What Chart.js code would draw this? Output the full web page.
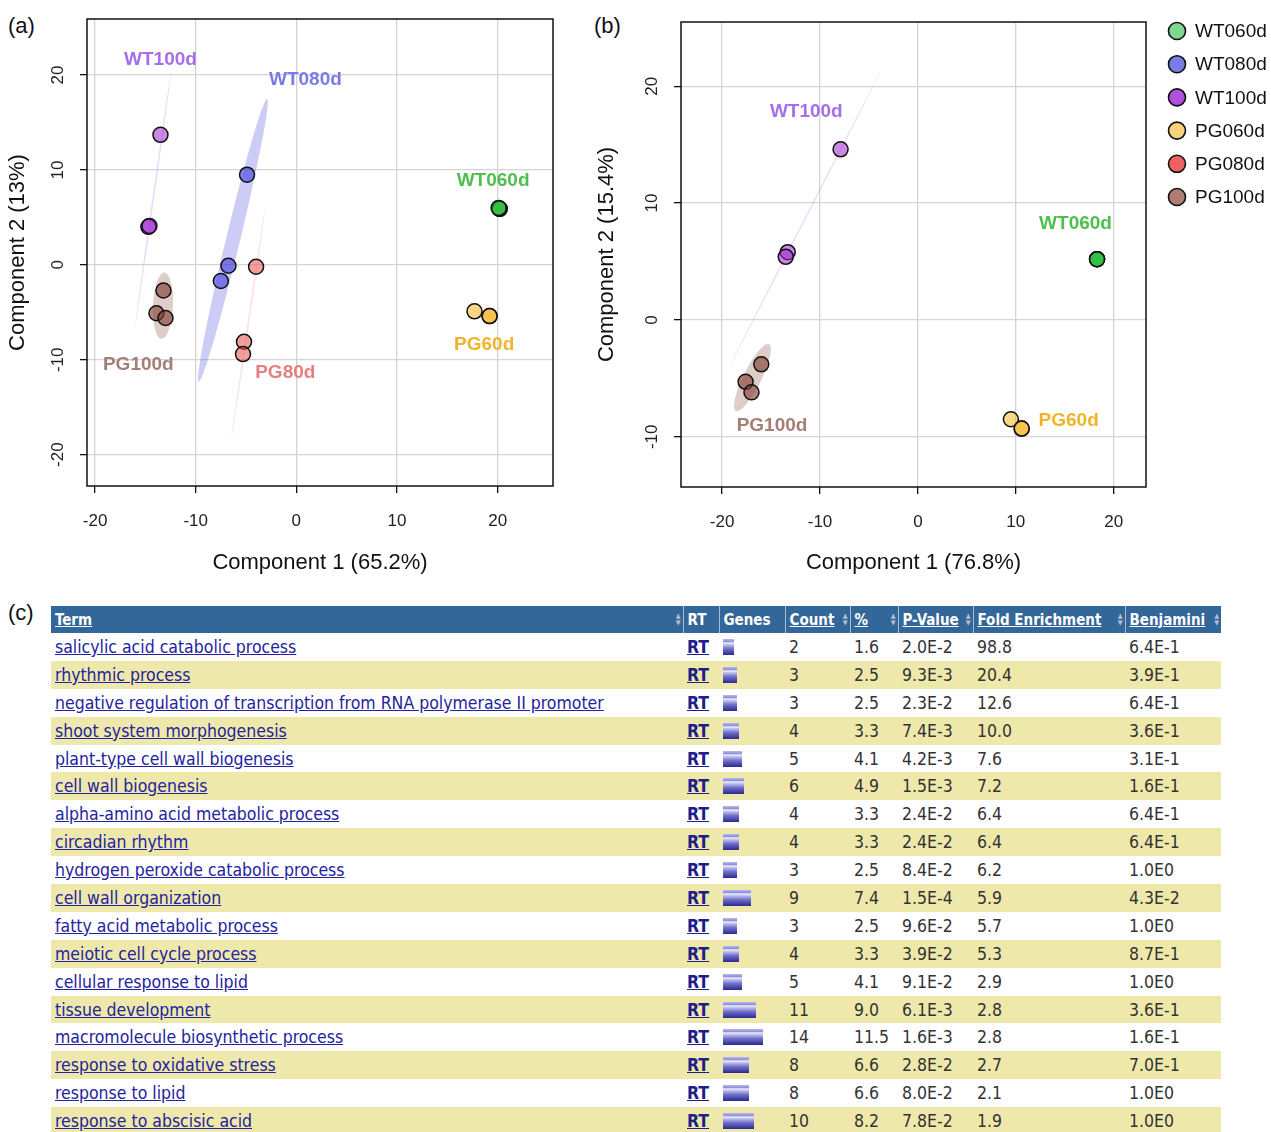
<!DOCTYPE html>
<html>
<head>
<meta charset="utf-8">
<script src="https://cdn.jsdelivr.net/npm/chart.js@4.4.9/dist/chart.umd.min.js"></script>
<style>
  html, body { margin: 0; padding: 0; background: #fff; }
  body { width: 1271px; height: 1132px; overflow: hidden; position: relative; font-family: 'Liberation Sans', Arial, sans-serif; }
  canvas { position: absolute; }
  .panel { position: absolute; font-size: 22px; color: #111; }
  #tableWrap { position: absolute; left: 51px; top: 606px; width: 1170px; }
  table { border-collapse: collapse; table-layout: fixed; width: 1170px;
          font-family: 'DejaVu Sans Condensed', 'DejaVu Sans', sans-serif; font-stretch: condensed; font-size: 17.5px; color: #333; }
  th { background: #336699; color: #fff; font-weight: bold; font-size: 15px; height: 27px; text-align: left;
       padding: 0 0 0 4px; border-left: 1px solid #a8bcd4; position: relative; white-space: nowrap; }
  th:first-child { border-left: none; }
  th a { color: #fff; }
  th .sort { position: absolute; right: 2px; top: 7px; font-size: 7px; line-height: 7px; color: #b4bfce; }
  td { height: 27.9px; padding: 0 0 0 4px; white-space: nowrap; overflow: hidden; vertical-align: middle; }
  tr.alt td { background: #eee8aa; }
  td a { color: #2323a0; }
  td a.rt { font-weight: bold; color: #1e1e8a; }
  .gene { display: inline-block; height: 16px; vertical-align: middle; margin-top: -2px;
          background: linear-gradient(to bottom, #b8b8ec 0%, #8c8cd8 18%, #f4f4fc 24%, #c4c4f0 34%, #7070cc 60%, #2a2a8c 100%); }
</style>
</head>
<body>
<div class="panel" style="left:8px; top:13px;">(a)</div>
<div class="panel" style="left:594px; top:13px;">(b)</div>
<div class="panel" style="left:8px; top:600px;">(c)</div>
<canvas id="pcaA" width="580" height="580" style="left:0; top:0;"></canvas>
<canvas id="pcaB" width="691" height="580" style="left:580px; top:0;"></canvas>
<div id="tableWrap"></div>
<script>
// ---- PCA scores, panel (a) ----
const groups = ['WT060d', 'WT080d', 'WT100d', 'PG060d', 'PG080d', 'PG100d'];
const aWT060d = [[20.2, 5.9], [20.2, 5.9], [20.1, 6.0]];
const aWT080d = [[-4.9, 9.5], [-6.75, -0.1], [-7.5, -1.7]];
const aWT100d = [[-13.5, 13.7], [-14.7, 4.0], [-14.6, 4.1]];
const aPG060d = [[17.7, -4.9], [19.2, -5.4], [19.2, -5.4]];
const aPG080d = [[-4.0, -0.2], [-5.2, -8.1], [-5.3, -9.4]];
const aPG100d = [[-13.2, -2.7], [-13.9, -5.1], [-13.0, -5.6]];

// ---- PCA scores, panel (b) ----
const bWT060d = [[18.3, 5.2], [18.3, 5.2], [18.3, 5.2]];
const bWT080d = [];
const bWT100d = [[-7.9, 14.6], [-13.3, 5.8], [-13.5, 5.4]];
const bPG060d = [[9.5, -8.5], [10.6, -9.3], [10.6, -9.3]];
const bPG080d = [];
const bPG100d = [[-16.0, -3.8], [-17.6, -5.3], [-17.0, -6.2]];

// group ellipses: major axis end points (data units)
const ellipseGroupsA = ['WT080d', 'WT100d', 'PG080d', 'PG100d', 'PG060d'];
const ellipseEndsA = [[[-9.7, -12.3], [-2.9, 17.5]], [[-16.0, -6.3], [-12.4, 20.6]], [[-6.45, -18.3], [-3.1, 6.0]], [[-13.1, -0.8], [-13.4, -7.8]], [[16.8, -4.5], [20.5, -5.9]]];
const ellipseGroupsB = ['WT100d', 'PG100d', 'PG060d'];
const ellipseEndsB = [[[-19.2, -3.9], [-3.8, 21.3]], [[-18.6, -7.8], [-15.2, -2.05]], [[9.8, -8.3], [11.3, -9.9]]];

// group name labels inside plots (data coords)
const labelTextA = ['WT100d', 'WT080d', 'WT060d', 'PG60d', 'PG80d', 'PG100d'];
const labelPosA = [[-13.5, 21.6], [0.9, 19.5], [19.55, 8.85], [18.66, -8.4], [-1.1, -11.4], [-15.7, -10.5]];
const labelTextB = ['WT100d', 'WT060d', 'PG60d', 'PG100d'];
const labelPosB = [[-11.4, 17.8], [16.1, 8.2], [15.4, -8.6], [-14.9, -9.1]];

const xTitleA = 'Component 1 (65.2%)';
const yTitleA = 'Component 2 (13%)';
const xTitleB = 'Component 1 (76.8%)';
const yTitleB = 'Component 2 (15.4%)';

// ---- DAVID table ----
const terms = ['salicylic acid catabolic process', 'rhythmic process', 'negative regulation of transcription from RNA polymerase II promoter',
  'shoot system morphogenesis', 'plant-type cell wall biogenesis', 'cell wall biogenesis', 'alpha-amino acid metabolic process',
  'circadian rhythm', 'hydrogen peroxide catabolic process', 'cell wall organization', 'fatty acid metabolic process',
  'meiotic cell cycle process', 'cellular response to lipid', 'tissue development', 'macromolecule biosynthetic process',
  'response to oxidative stress', 'response to lipid', 'response to abscisic acid'];
const counts = [2, 3, 3, 4, 5, 6, 4, 4, 3, 9, 3, 4, 5, 11, 14, 8, 8, 10];
const percents = ['1.6', '2.5', '2.5', '3.3', '4.1', '4.9', '3.3', '3.3', '2.5', '7.4', '2.5', '3.3', '4.1', '9.0', '11.5', '6.6', '6.6', '8.2'];
const pValues = ['2.0E-2', '9.3E-3', '2.3E-2', '7.4E-3', '4.2E-3', '1.5E-3', '2.4E-2', '2.4E-2', '8.4E-2', '1.5E-4', '9.6E-2', '3.9E-2', '9.1E-2', '6.1E-3', '1.6E-3', '2.8E-2', '8.0E-2', '7.8E-2'];
const foldEnrichment = ['98.8', '20.4', '12.6', '10.0', '7.6', '7.2', '6.4', '6.4', '6.2', '5.9', '5.7', '5.3', '2.9', '2.8', '2.8', '2.7', '2.1', '1.9'];
const benjamini = ['6.4E-1', '3.9E-1', '6.4E-1', '3.6E-1', '3.1E-1', '1.6E-1', '6.4E-1', '6.4E-1', '1.0E0', '4.3E-2', '1.0E0', '8.7E-1', '1.0E0', '3.6E-1', '1.6E-1', '7.0E-1', '1.0E0', '1.0E0'];

// styles
const pointFill = {
  WT060d: 'rgba(40,190,60,0.6)', WT080d: 'rgba(60,60,220,0.6)', WT100d: 'rgba(160,40,210,0.55)',
  PG060d: 'rgba(245,180,40,0.55)', PG080d: 'rgba(235,80,80,0.55)', PG100d: 'rgba(130,60,50,0.62)'
};
const legendFill = { WT060d: '#80d890', WT080d: '#7b7be6', WT100d: '#b050e0', PG060d: '#f8d27a', PG080d: '#f06262', PG100d: '#b07c74' };
const ellipseFill = {
  WT080d: 'rgba(110,110,230,0.35)', WT100d: 'rgba(190,120,235,0.28)', PG080d: 'rgba(235,140,140,0.25)',
  PG100d: 'rgba(150,90,80,0.3)', PG060d: 'rgba(245,200,90,0.35)'
};
const ellipseHalfWidth = { WT080d: 7, WT100d: 0.8, PG080d: 0.8, PG100d: 10, PG060d: 0.8 };
const ellipseHalfWidthB = { WT100d: 0.7, PG100d: 9, PG060d: 0.8 };
const labelColor = {
  WT100d: '#a66ee8', WT080d: '#7b7be8', WT060d: '#4cbf4c', PG60d: '#f0b429', PG80d: '#e57f7f', PG100d: '#a57e78'
};
const FONT = "'Liberation Sans', Arial, sans-serif";

const makeDatasets = (sets) => groups.map((g, i) => ({
  label: g,
  data: sets[i].map(p => ({ x: p[0], y: p[1] })),
  backgroundColor: pointFill[g],
  borderColor: '#111',
  borderWidth: 1.5,
  pointRadius: 7.5,
  pointHoverRadius: 7.5
}));

const pcaPlugin = (ellGroups, ellEnds, halfWidths, labTexts, labPos, showLegend) => ({
  id: 'pcaExtras',
  beforeDatasetsDraw(chart) {
    const { ctx, chartArea, scales: { x, y } } = chart;
    ctx.save();
    ctx.beginPath();
    ctx.rect(chartArea.left, chartArea.top, chartArea.right - chartArea.left, chartArea.bottom - chartArea.top);
    ctx.clip();
    ellGroups.forEach((g, i) => {
      const [p1, p2] = ellEnds[i];
      const x1 = x.getPixelForValue(p1[0]), y1 = y.getPixelForValue(p1[1]);
      const x2 = x.getPixelForValue(p2[0]), y2 = y.getPixelForValue(p2[1]);
      const len = Math.hypot(x2 - x1, y2 - y1) / 2;
      ctx.beginPath();
      ctx.ellipse((x1 + x2) / 2, (y1 + y2) / 2, len, halfWidths[g], Math.atan2(y2 - y1, x2 - x1), 0, Math.PI * 2);
      ctx.fillStyle = ellipseFill[g];
      ctx.fill();
    });
    ctx.restore();
  },
  afterDatasetsDraw(chart) {
    const { ctx, scales: { x, y } } = chart;
    ctx.save();
    ctx.font = 'bold 19px ' + FONT;
    ctx.textAlign = 'center';
    ctx.textBaseline = 'middle';
    labTexts.forEach((t, i) => {
      ctx.fillStyle = labelColor[t];
      ctx.fillText(t, x.getPixelForValue(labPos[i][0]), y.getPixelForValue(labPos[i][1]));
    });
    ctx.restore();
  },
  afterDraw(chart) {
    const { ctx, chartArea, scales: { y } } = chart;
    ctx.save();
    ctx.strokeStyle = '#111';
    ctx.lineWidth = 1.5;
    ctx.strokeRect(chartArea.left, chartArea.top, chartArea.right - chartArea.left, chartArea.bottom - chartArea.top);
    // rotated y tick labels (R style)
    ctx.font = '17px ' + FONT;
    ctx.fillStyle = '#222';
    ctx.textAlign = 'center';
    ctx.textBaseline = 'middle';
    y.ticks.forEach(t => {
      ctx.save();
      ctx.translate(chartArea.left - 29, y.getPixelForValue(t.value));
      ctx.rotate(-Math.PI / 2);
      ctx.fillText(String(t.value), 0, 0);
      ctx.restore();
    });
    if (showLegend) {
      ctx.font = '19px ' + FONT;
      ctx.textAlign = 'left';
      chart.data.datasets.forEach((ds, i) => {
        const cy = 31 + i * 33.2;
        ctx.beginPath();
        ctx.arc(chartArea.right + 31, cy, 8.5, 0, Math.PI * 2);
        ctx.fillStyle = legendFill[ds.label];
        ctx.fill();
        ctx.lineWidth = 1.6;
        ctx.strokeStyle = '#111';
        ctx.stroke();
        ctx.fillStyle = '#111';
        ctx.fillText(ds.label, chartArea.right + 49, cy + 1);
      });
    }
    ctx.restore();
  }
});

const makePca = (id, sets, xr, yr, yAxisWidth, xAxisHeight, pad, titles, yTitlePad, plugin) => new Chart(document.getElementById(id), {
  type: 'scatter',
  data: { datasets: makeDatasets(sets) },
  options: {
    responsive: false,
    animation: false,
    layout: { padding: pad },
    plugins: { legend: { display: false }, tooltip: { enabled: false } },
    scales: {
      x: {
        min: xr[0], max: xr[1],
        ticks: { stepSize: 10, includeBounds: false, padding: 18, color: '#222', font: { family: FONT, size: 17 } },
        grid: { color: '#d4d4d4', lineWidth: 1.3, tickColor: '#111', tickWidth: 1.3, tickLength: 7 },
        border: { display: false },
        title: { display: true, text: titles[0], color: '#111', font: { family: FONT, size: 22 }, padding: { top: 0, bottom: 4 } },
        afterFit: s => { s.height = xAxisHeight; }
      },
      y: {
        min: yr[0], max: yr[1],
        ticks: { stepSize: 10, includeBounds: false, display: false },
        grid: { color: '#d4d4d4', lineWidth: 1.3, tickColor: '#111', tickWidth: 1.3, tickLength: 7 },
        border: { display: false },
        title: { display: true, text: titles[1], color: '#111', font: { family: FONT, size: 22 }, padding: { top: yTitlePad, bottom: 0 } },
        afterFit: s => { s.width = yAxisWidth; }
      }
    }
  },
  plugins: [plugin]
});

makePca('pcaA', [aWT060d, aWT080d, aWT100d, aPG060d, aPG080d, aPG100d], [-20.8, 25.5], [-23.3, 25.9], 87, 94,
  { top: 19, right: 27, left: 0, bottom: 0 }, [xTitleA, yTitleA], 5,
  pcaPlugin(ellipseGroupsA, ellipseEndsA, ellipseHalfWidth, labelTextA, labelPosA, false));

makePca('pcaB', [bWT060d, bWT080d, bWT100d, bPG060d, bPG080d, bPG100d], [-24.2, 23.3], [-14.3, 25.5], 101, 93,
  { top: 22, right: 125, left: 0, bottom: 0 }, [xTitleB, yTitleB], 14,
  pcaPlugin(ellipseGroupsB, ellipseEndsB, ellipseHalfWidthB, labelTextB, labelPosB, true));

// ---- table ----
const sortIcon = '<span class="sort">&#9650;<br>&#9660;</span>';
const colWidths = [632, 36, 66, 65, 48, 75, 152, 96];
let html = '<table><colgroup>' + colWidths.map(w => `<col style="width:${w}px">`).join('') + '</colgroup>';
html += '<tr><th><a href="#">Term</a>' + sortIcon + '</th><th>RT</th><th>Genes</th>' +
  '<th><a href="#">Count</a>' + sortIcon + '</th><th><a href="#">%</a>' + sortIcon + '</th>' +
  '<th><a href="#">P-Value</a>' + sortIcon + '</th><th><a href="#">Fold Enrichment</a>' + sortIcon + '</th>' +
  '<th><a href="#">Benjamini</a>' + sortIcon + '</th></tr>';
terms.forEach((t, i) => {
  html += `<tr class="${i % 2 ? 'alt' : ''}"><td><a href="#">${t}</a></td><td><a class="rt" href="#">RT</a></td>` +
    `<td><span class="gene" style="width:${Math.round(2.4 * counts[i] + 6.5)}px"></span></td>` +
    `<td>${counts[i]}</td><td>${percents[i]}</td><td>${pValues[i]}</td><td>${foldEnrichment[i]}</td><td>${benjamini[i]}</td></tr>`;
});
html += '</table>';
document.getElementById('tableWrap').innerHTML = html;
</script>
</body>
</html>
